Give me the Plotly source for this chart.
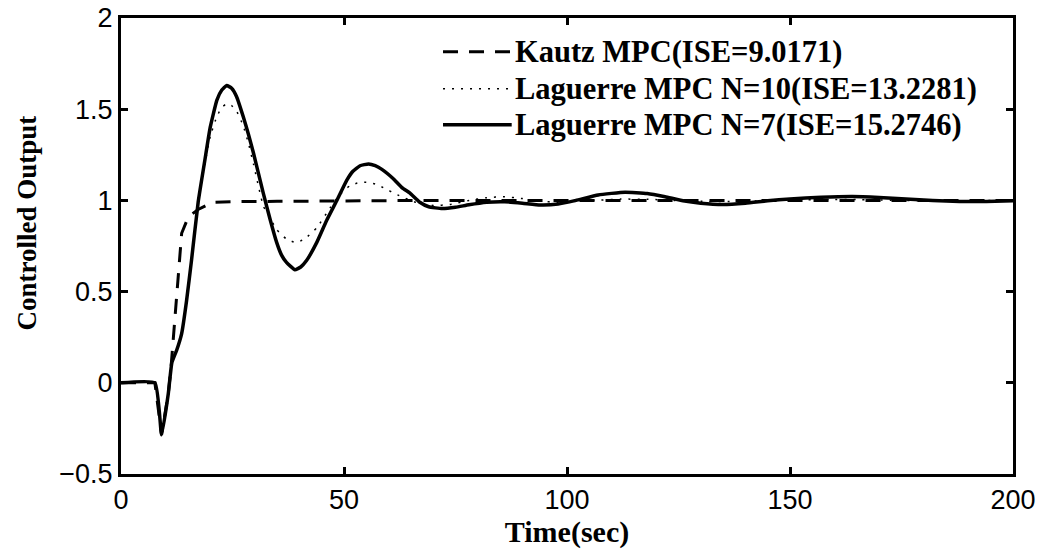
import plotly.graph_objects as go

# ---- data ----
t_kautz = [0, 7.6, 9.1, 10.6, 11.2, 13.6, 15.1, 17.3, 20.6, 25, 35, 45, 55, 70, 100, 150, 200]
y_kautz = [0, 0, -0.285, -0.06, 0.08, 0.82, 0.91, 0.95, 0.99, 0.993, 0.995, 0.997, 1.0, 1.0, 1.0, 1.0, 1.0]

t_lag10 = [0, 7.6, 9.1, 10.6, 11.4, 12.5, 13.6, 14.7, 15.8, 17.3, 18.8, 20, 21.5, 22.6, 23.7, 24.8, 25.9,
           27.4, 28.6, 29.7, 31.9, 33.5, 34.9, 37, 39, 41, 43.9, 46.9, 49, 51.3, 53, 55, 57, 58.8, 62, 66,
           70, 73.8, 78, 82, 86, 90, 94, 98, 102, 106, 112, 118, 124, 130, 137, 144, 150, 158, 166, 175,
           185, 200]
y_lag10 = [0, 0, -0.285, -0.06, 0.11, 0.18, 0.27, 0.45, 0.67, 0.98, 1.2, 1.35, 1.46, 1.51, 1.53, 1.52, 1.49,
           1.41, 1.31, 1.2, 0.97, 0.9, 0.84, 0.79, 0.77, 0.785, 0.85, 0.96, 1.03, 1.08, 1.095, 1.1, 1.09, 1.07, 1.03, 0.99,
           0.972, 0.978, 1.0, 1.015, 1.02, 1.01, 0.995, 0.99, 0.995, 1.0, 1.007, 1.006, 1.0, 0.995, 0.994, 0.998, 1.002, 1.005, 1.004, 1.0,
           0.998, 1.0]

t_lag7 = [0, 7.6, 9.1, 10.6, 11.4, 12.5, 13.6, 14.7, 15.8, 17.3, 18.8, 20, 21.5, 22.6, 23.7, 24.8, 25.9,
          27.4, 28.6, 29.7, 31.9, 33.5, 34.9, 36, 37.1, 39, 40.3, 41.6, 43.9, 46.1, 48.4, 50.6, 52, 53.6, 55.5,
          57, 58.5, 61, 63, 64.8, 67, 69, 72, 75, 78, 82, 86, 90, 94, 98, 102, 107, 113, 118, 122, 126, 130,
          135, 140, 145, 150, 157, 164, 170, 176, 182, 188, 194, 200]
y_lag7 = [0, 0, -0.285, -0.06, 0.11, 0.18, 0.27, 0.45, 0.67, 0.99, 1.22, 1.40, 1.55, 1.605, 1.63, 1.615, 1.57,
          1.46, 1.36, 1.26, 1.04, 0.89, 0.77, 0.70, 0.66, 0.62, 0.635, 0.67, 0.77, 0.89, 1.0, 1.11, 1.16, 1.19, 1.20,
          1.19, 1.17, 1.12, 1.07, 1.04, 0.99, 0.965, 0.955, 0.962, 0.976, 0.99, 0.993, 0.985, 0.975, 0.98, 1.0, 1.03, 1.045, 1.038, 1.02, 0.998, 0.985,
          0.978, 0.985, 0.998, 1.008, 1.017, 1.021, 1.016, 1.008, 1.0, 0.994, 0.994, 0.998]

series_names = ["Kautz MPC(ISE=9.0171)",
                "Laguerre MPC N=10(ISE=13.2281)",
                "Laguerre MPC N=7(ISE=15.2746)"]

x_title = "Time(sec)"
y_title = "Controlled Output"
x_ticks = [0, 50, 100, 150, 200]
y_ticks = [-0.5, 0, 0.5, 1, 1.5, 2]

# ---- styles ----
styles = [
    dict(color="black", width=3, dash="15px,11px"),
    dict(color="black", width=1.5, dash="2px,7px"),
    dict(color="black", width=3.5, dash="solid"),
]
shapes_kind = ["linear", "spline", "spline"]
serif = "Liberation Serif, Times New Roman, serif"
sans = "Liberation Sans, Arial, Helvetica, sans-serif"

fig = go.Figure()
for (tx, ty), name, st, sh in zip([(t_kautz, y_kautz), (t_lag10, y_lag10), (t_lag7, y_lag7)],
                                   series_names, styles, shapes_kind):
    line = dict(st, shape=sh)
    if sh == "spline":
        line["smoothing"] = 0.4
    fig.add_trace(go.Scatter(x=tx, y=ty, mode="lines", name=name, line=line, showlegend=False))

# custom legend (long line samples like the reference)
rows_y = [0.926, 0.845, 0.766]
for name, st, ry in zip(series_names, styles, rows_y):
    fig.add_shape(type="line", xref="paper", yref="paper", x0=0.361, x1=0.438, y0=ry, y1=ry, line=st)
    fig.add_annotation(xref="paper", yref="paper", x=0.440, y=ry, xanchor="left", yanchor="middle",
                       text=name, showarrow=False,
                       font=dict(family=serif, size=30.5, color="black", weight="bold"))

# y-axis title placed like the reference (slightly above centre)
fig.add_annotation(xref="paper", yref="paper", x=-0.105, y=0.55, xanchor="center", yanchor="middle",
                   text=y_title, textangle=-90, showarrow=False,
                   font=dict(family=serif, size=27, color="black", weight="bold"))

axis_common = dict(showgrid=False, zeroline=False, showline=True, linecolor="black", linewidth=3,
                   mirror="allticks", ticks="inside", ticklen=7, tickwidth=2.5, tickcolor="black",
                   automargin=False,
                   tickfont=dict(family=sans, size=27, color="black"))

fig.update_xaxes(range=[0, 200], tickvals=x_ticks, **axis_common,
                 title=dict(text=x_title, font=dict(family=serif, size=30, color="black", weight="bold"), standoff=2))
fig.update_yaxes(range=[-0.5, 2], tickvals=y_ticks, **axis_common)

fig.update_layout(width=1044, height=553, margin=dict(l=121, r=31, t=18, b=79),
                  plot_bgcolor="white", paper_bgcolor="white")

fig.write_html("out.html")
